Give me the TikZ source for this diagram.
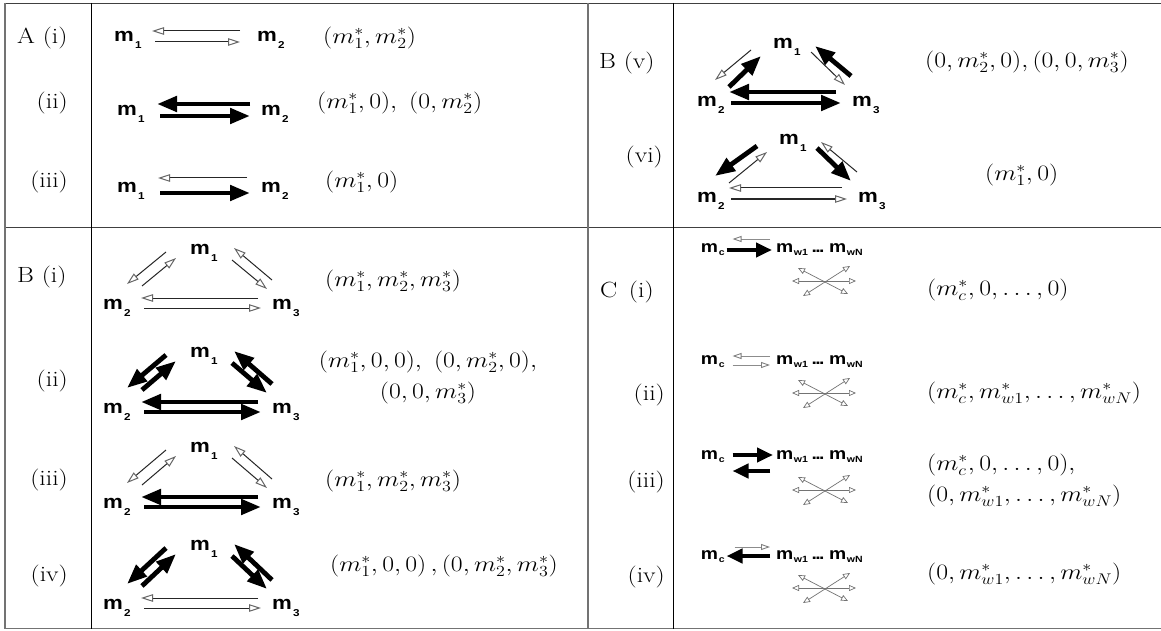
\RequirePackage{fix-cm}
\documentclass[tikz,border=0pt]{standalone}
\usepackage{fontspec}
\setsansfont{Liberation Sans}
\usepackage{graphicx}
\usetikzlibrary{arrows.meta}
\newcommand\hs[1]{\scalebox{1.17}[1]{#1}}
\newcommand\ms[1]{m\rlap{\kern1pt\smash{\raisebox{-7pt}{\fontsize{10}{11}\selectfont #1}}}}
\newcommand\mc[1]{m\rlap{\kern0.6pt\smash{\raisebox{-3pt}{\fontsize{9}{10}\selectfont #1}}}}
\newcommand\mwsub[1]{m\kern0.5pt\smash{\raisebox{-3pt}{\fontsize{9}{10}\selectfont #1}}}
\newcommand\mwrow{\mwsub{w1}\kern3pt.\kern-1.3pt.\kern-1.3pt.\kern4pt\mwsub{wN}}
% triangle, layout of B (i)-(iv)
\newcommand\triL[9]{%
 \node[mlab] (#1a) at (#2) {\hs{\ms{1}}};
 \node[mlab] (#1b) at (#3) {\hs{\ms{2}}};
 \node[mlab] (#1c) at (#4) {\hs{\ms{3}}};
 \draw[#5] ([shift={(-34,3)}]#1a.center) -- ([shift={(14,-20)}]#1b.center);
 \draw[#6] ([shift={(29,-18)}]#1b.center) -- ([shift={(-24,9)}]#1a.center);
 \draw[#7] ([shift={(32,11)}]#1a.center) -- ([shift={(-15,-15)}]#1c.center);
 \draw[#8] ([shift={(-10,-24)}]#1c.center) -- ([shift={(34,-1)}]#1a.center);
 \draw[#9] ([shift={(-24,-6)}]#1c.center) -- ([shift={(28,-6)}]#1b.center);
 \draw[#9] ([shift={(31,4)}]#1b.center) -- ([shift={(-21,4)}]#1c.center);
}
% triangle, layout of B (v)-(vi)
\newcommand\triR[9]{%
 \node[mlab] (#1a) at (#2) {\hs{\ms{1}}};
 \node[mlab] (#1b) at (#3) {\hs{\ms{2}}};
 \node[mlab] (#1c) at (#4) {\hs{\ms{3}}};
 \draw[#5] ([shift={(-32,7)}]#1a.center) -- ([shift={(8,-21)}]#1b.center);
 \draw[#6] ([shift={(22,-14)}]#1b.center) -- ([shift={(-22,13)}]#1a.center);
 \draw[#7] ([shift={(28,9)}]#1a.center) -- ([shift={(-17,-16)}]#1c.center);
 \draw[#8] ([shift={(-11,-25)}]#1c.center) -- ([shift={(32,3)}]#1a.center);
 \draw[#9] ([shift={(-26,-9)}]#1c.center) -- ([shift={(22,-9)}]#1b.center);
 \draw[#9] ([shift={(24,2)}]#1b.center) -- ([shift={(-21,2)}]#1c.center);
}
\newcommand\cstar[1]{%
 \draw[arS] ([shift={(-33,0)}]#1) -- ([shift={(31,0)}]#1);
 \draw[arS] ([shift={(-27,-13)}]#1) -- ([shift={(23,13)}]#1);
 \draw[arS] ([shift={(-22,15)}]#1) -- ([shift={(25,-15)}]#1);
}
\begin{document}
\begin{tikzpicture}[x=1pt,y=-1pt,
  mlab/.style={inner sep=0pt, font=\sffamily\bfseries\fontsize{19}{21}\selectfont},
  clab/.style={inner sep=0pt, font=\sffamily\bfseries\fontsize{16.5}{19}\selectfont},
  lab/.style={inner sep=0pt, font=\fontsize{22}{26}\selectfont},
  mt/.style={inner sep=0pt, anchor=west, font=\fontsize{22}{31}\selectfont},
  arO/.style={line width=1pt, draw=black!85, -{Triangle[open,length=12pt,width=7.5pt,color=black!60]}},
  arT/.style={line width=4.8pt, draw=black, -{Triangle[length=20pt,width=15pt]}},
  arG/.style={line width=0.9pt, draw=black!45, -{Triangle[open,length=9pt,width=6pt,color=black!50]}},
  arC/.style={line width=4.4pt, draw=black, -{Triangle[length=16pt,width=14pt]}},
  arS/.style={line width=0.7pt, draw=black!55, {Triangle[open,length=7pt,width=6pt]}-{Triangle[open,length=7pt,width=6pt]}},
  rulO/.style={draw=black!55, line width=1.8pt},
  rulH/.style={draw=black!75, line width=1.4pt},
  rulI/.style={draw=black, line width=0.9pt}]
\useasboundingbox (0,0) rectangle (1161,631);
\fill[white] (0,0) rectangle (1161,631);
% table rules
\draw[rulH] (4,3.5) -- (1161,3.5);
\draw[rulO] (4,628.5) -- (1161,628.5);
\draw[rulH] (4,227.5) -- (1161,227.5);
\draw[rulO] (5,3) -- (5,629);
\draw[rulI] (91,3) -- (91,629);
\draw[rulO] (588,3) -- (588,629);
\draw[rulI] (673,3) -- (673,629);
% row labels
\node[lab,anchor=west] (lAi) at (17,38) {\hs{A (i)}};
\node[lab,anchor=east] (lAii) at (68,103) {\hs{(ii)}};
\node[lab,anchor=east] (lAiii) at (68,182) {\hs{(iii)}};
\node[lab,anchor=west] (lBv) at (599,63) {\hs{B (v)}};
\node[lab,anchor=east] (lBvi) at (663,157) {\hs{(vi)}};
\node[lab,anchor=west] (lBi) at (17,277) {\hs{B (i)}};
\node[lab,anchor=east] (lBii) at (68,381) {\hs{(ii)}};
\node[lab,anchor=east] (lBiii) at (68,480) {\hs{(iii)}};
\node[lab,anchor=east] (lBiv) at (68,576) {\hs{(iv)}};
\node[lab,anchor=west] (lCi) at (600,292) {\hs{C\hspace{0.45em}(i)}};
\node[lab,anchor=east] (lCii) at (665,395) {\hs{(ii)}};
\node[lab,anchor=east] (lCiii) at (665,482) {\hs{(iii)}};
\node[lab,anchor=east] (lCiv) at (665,577) {\hs{(iv)}};
% fixed points
\node[mt] (tAi) at (323,38) {\hs{$(m_1^*,m_2^*)$}};
\node[mt] (tAii) at (317,103) {\hs{$(m_1^*,0),\ (0,m_2^*)$}};
\node[mt] (tAiii) at (325,182) {\hs{$(m_1^*,0)$}};
\node[mt] (tBv) at (925,62) {\hs{$(0,m_2^*,0),(0,0,m_3^*)$}};
\node[mt] (tBvi) at (985,175) {\hs{$(m_1^*,0)$}};
\node[mt] (tBi) at (325,281) {\hs{$(m_1^*,m_2^*,m_3^*)$}};
\node[mt,anchor=center,align=center] (tBii) at (428,377) {\hs{$(m_1^*,0,0),\ (0,m_2^*,0),$}\\\hs{$(0,0,m_3^*)$}};
\node[mt] (tBiii) at (325,481) {\hs{$(m_1^*,m_2^*,m_3^*)$}};
\node[mt] (tBiv) at (330,566) {\hs{$(m_1^*,0,0)\,,(0,m_2^*,m_3^*)$}};
\node[mt] (tCi) at (927,290) {\hs{$(m_c^*,0,\ldots,0)$}};
\node[mt] (tCii) at (927,393) {\hs{$(m_c^*,m_{w1}^*,\ldots,m_{wN}^*)$}};
\node[mt,align=left] (tCiii) at (927,480) {\hs{$(m_c^*,0,\ldots,0),$}\\\hs{$(0,m_{w1}^*,\ldots,m_{wN}^*)$}};
\node[mt] (tCiv) at (927,574) {\hs{$(0,m_{w1}^*,\ldots,m_{wN}^*)$}};
% A diagrams
\node[mlab] (Aia) at (124,36) {\hs{\ms{1}}};
\node[mlab] (Aib) at (267,36) {\hs{\ms{2}}};
\draw[arO] ([shift={(-27,-5)}]Aib.center) -- ([shift={(28,-5)}]Aia.center);
\draw[arO] ([shift={(31,6)}]Aia.center) -- ([shift={(-27,6)}]Aib.center);
\node[mlab] (Aiia) at (127,110) {\hs{\ms{1}}};
\node[mlab] (Aiib) at (271,110) {\hs{\ms{2}}};
\draw[arT] ([shift={(-21,-6)}]Aiib.center) -- ([shift={(30,-6)}]Aiia.center);
\draw[arT] ([shift={(33,6)}]Aiia.center) -- ([shift={(-21,6)}]Aiib.center);
\node[mlab] (Aiiia) at (127,187) {\hs{\ms{1}}};
\node[mlab] (Aiiib) at (271,187) {\hs{\ms{2}}};
\draw[arO] ([shift={(-24,-9)}]Aiiib.center) -- ([shift={(31,-9)}]Aiiia.center);
\draw[arT] ([shift={(33,6)}]Aiiia.center) -- ([shift={(-21,6)}]Aiiib.center);
% B (v), (vi)
\triR{Bv}{783,43}{707,101}{862,101}{arO}{arT}{arO}{arT}{arT}
\triR{Bvi}{789,139}{707,197}{868,197}{arT}{arO}{arT}{arO}{arO}
% B (i)-(iv)
\triL{Bi}{200,249}{113,304}{282,304}{arO}{arO}{arO}{arO}{arO}
\triL{Bii}{200,352}{113,408}{282,408}{arT}{arT}{arT}{arT}{arT}
\triL{Biii}{200,447}{113,503}{282,503}{arO}{arO}{arO}{arO}{arT}
\triL{Biv}{200,545}{113,604}{282,604}{arT}{arT}{arT}{arT}{arO}
% C diagrams
\node[clab] (Cia) at (709.5,248) {\hs{\mc{c}}};
\node[clab,anchor=west] (Cib) at (776,248) {\hs{\mwrow}};
\draw[arG] ([shift={(-6,-9)}]Cib.west) -- ([shift={(23,-9)}]Cia.center);
\draw[arC] ([shift={(17,2)}]Cia.center) -- ([shift={(-4,2)}]Cib.west);
\coordinate (Cis) at ([shift={(49,33)}]Cib.west);
\cstar{Cis}
\node[clab] (Ciia) at (709.5,360) {\hs{\mc{c}}};
\node[clab,anchor=west] (Ciib) at (776,360) {\hs{\mwrow}};
\draw[arG] ([shift={(-6,-4)}]Ciib.west) -- ([shift={(23,-4)}]Ciia.center);
\draw[arG] ([shift={(23,5)}]Ciia.center) -- ([shift={(-6,5)}]Ciib.west);
\coordinate (Ciis) at ([shift={(49,33)}]Ciib.west);
\cstar{Ciis}
\node[clab] (Ciiia) at (709.5,455) {\hs{\mc{c}}};
\node[clab,anchor=west] (Ciiib) at (776,455) {\hs{\mwrow}};
\draw[arC] ([shift={(23,0)}]Ciiia.center) -- ([shift={(-3,0)}]Ciiib.west);
\draw[arC] ([shift={(-6,16)}]Ciiib.west) -- ([shift={(23,16)}]Ciiia.center);
\coordinate (Ciiis) at ([shift={(49,35)}]Ciiib.west);
\cstar{Ciiis}
\node[clab] (Civa) at (709.5,555) {\hs{\mc{c}}};
\node[clab,anchor=west] (Civb) at (776,555) {\hs{\mwrow}};
\draw[arG] ([shift={(25,-8)}]Civa.center) -- ([shift={(-6,-8)}]Civb.west);
\draw[arC] ([shift={(-6,1)}]Civb.west) -- ([shift={(17,1)}]Civa.center);
\coordinate (Civs) at ([shift={(49,33)}]Civb.west);
\cstar{Civs}
\end{tikzpicture}
\end{document}
